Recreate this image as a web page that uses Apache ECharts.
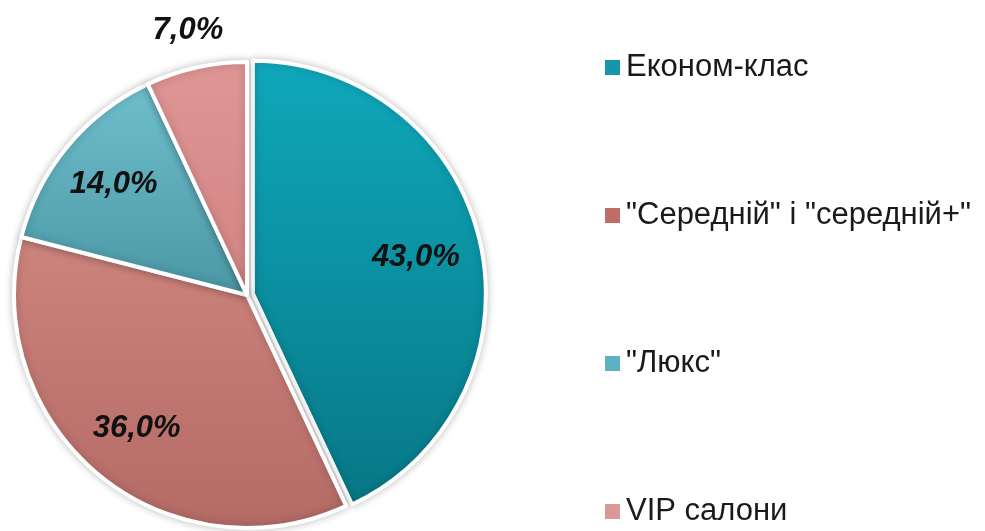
<!DOCTYPE html>
<html><head><meta charset="utf-8">
<script src="https://cdn.jsdelivr.net/npm/echarts@6/dist/echarts.min.js"></script>
<style>html,body{margin:0;padding:0;background:#fff}#c{width:985px;height:531px}</style>
</head><body><div id="c"></div>
<script>
const categories = ['Економ-клас', '"Середній" і "середній+"', '"Люкс"', 'VIP салони'];
const values = [43.0, 36.0, 14.0, 7.0];
const legendColors = ['#1597a9', '#c06c67', '#5db1c1', '#dc9797'];
const gradTop = ['#0fa8bb', '#cd847d', '#6fbfcd', '#df9695'];
const gradBottom = ['#077786', '#b46a65', '#4b97a5', '#d08482'];

function grad(i){
  return new echarts.graphic.LinearGradient(0,0,0,1,[{offset:0,color:gradTop[i]},{offset:1,color:gradBottom[i]}]);
}
const fmt = p => p.value.toFixed(1).replace('.', ',') + '%';
const labelStyle = {fontFamily:'Liberation Sans, Arial, sans-serif', fontSize:31, fontWeight:'bold', fontStyle:'italic', color:'#111'};

const mainData = categories.map((n,i)=>({name:n, value:values[i], selected:i===0,
  itemStyle:{color:grad(i)}}));
const labelDataIn = categories.map((n,i)=>({name:n, value:values[i], label:{show:i!==3}}));
const labelDataOut = categories.map((n,i)=>({name:n, value:values[i], label:{show:i===3}}));

const chart = echarts.init(document.getElementById('c'));
chart.setOption({
  animation:false,
  color: legendColors,
  legend:{
    orient:'vertical', left:603, top:52, padding:0, height:480,
    itemWidth:17, itemHeight:17, itemGap:117, icon:'rect',
    data: categories.map((n,i)=>({name:n, itemStyle:{color:legendColors[i]}})),
    textStyle:{fontFamily:'Liberation Sans, Arial, sans-serif', fontSize:31, color:'#1a1a1a', lineHeight:30},
    selectedMode:false
  },
  series:[
    {type:'pie', center:[247,295], radius:[0,233], startAngle:90, clockwise:true,
     selectedMode:'multiple', selectedOffset:6, silent:true,
     itemStyle:{borderColor:'#fff', borderWidth:4, shadowBlur:8, shadowColor:'rgba(0,0,0,0.22)'},
     label:{show:false}, labelLine:{show:false}, emphasis:{disabled:true},
     data: mainData},
    {type:'pie', center:[247,295], radius:[0,340], startAngle:90, clockwise:true, silent:true,
     itemStyle:{color:'rgba(0,0,0,0)'}, labelLine:{show:false}, emphasis:{disabled:true},
     label:Object.assign({position:'inside', formatter:fmt}, labelStyle),
     data: labelDataIn},
    {type:'pie', center:[247,295], radius:[0,536], startAngle:90, clockwise:true, silent:true,
     itemStyle:{color:'rgba(0,0,0,0)'}, labelLine:{show:false}, emphasis:{disabled:true},
     label:Object.assign({position:'inside', formatter:fmt}, labelStyle),
     data: labelDataOut}
  ]
});
</script></body></html>
